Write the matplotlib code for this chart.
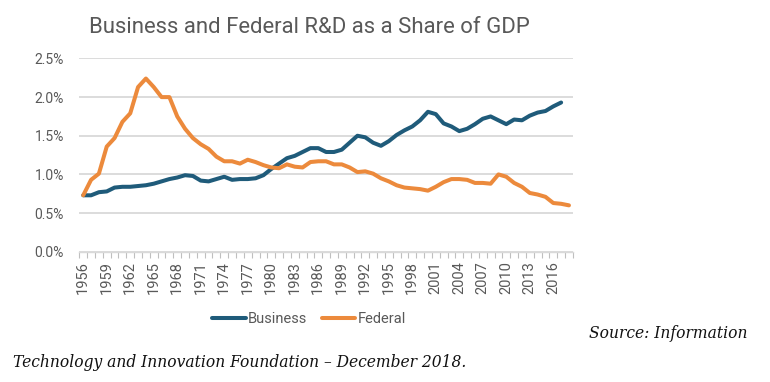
import matplotlib
matplotlib.use("Agg")
import matplotlib.pyplot as plt
from matplotlib.ticker import FixedLocator, PercentFormatter

# datos (porcentaje del PIB)
years = list(range(1956, 2019))
business = [0.73, 0.73, 0.77, 0.78, 0.83, 0.84, 0.84, 0.85, 0.86, 0.88,
            0.91, 0.94, 0.96, 0.99, 0.98, 0.92, 0.91, 0.94, 0.97, 0.93,
            0.94, 0.94, 0.95, 0.99, 1.07, 1.14, 1.21, 1.24, 1.29, 1.34,
            1.34, 1.29, 1.29, 1.32, 1.41, 1.50, 1.48, 1.41, 1.37, 1.43,
            1.51, 1.57, 1.62, 1.70, 1.81, 1.78, 1.66, 1.62, 1.56, 1.59,
            1.65, 1.72, 1.75, 1.70, 1.65, 1.71, 1.70, 1.76, 1.80, 1.82,
            1.88, 1.93]
federal = [0.73, 0.93, 1.01, 1.36, 1.47, 1.68, 1.79, 2.13, 2.24, 2.13,
           2.00, 2.00, 1.75, 1.59, 1.47, 1.39, 1.33, 1.23, 1.17, 1.17,
           1.14, 1.19, 1.16, 1.12, 1.09, 1.08, 1.13, 1.10, 1.09, 1.16,
           1.17, 1.17, 1.13, 1.13, 1.09, 1.03, 1.04, 1.01, 0.95, 0.91,
           0.86, 0.83, 0.82, 0.81, 0.79, 0.84, 0.90, 0.94, 0.94, 0.93,
           0.89, 0.89, 0.88, 1.00, 0.97, 0.89, 0.84, 0.76, 0.74, 0.71,
           0.63, 0.62, 0.60]
y_ticks = [0.0, 0.5, 1.0, 1.5, 2.0, 2.5]

azul = "#1f5b7a"
naranja = "#ec8a3c"
gris = "#595959"

fig = plt.figure(figsize=(7.7, 3.82), dpi=100)
ax = fig.add_axes([0.103, 0.341, 0.641, 0.506])

pos_b = list(range(len(business)))
pos_f = list(range(len(federal)))
ax.plot(pos_b, business, color=azul, linewidth=2.9, label="Business", solid_capstyle="round")
ax.plot(pos_f, federal, color=naranja, linewidth=2.9, label="Federal", solid_capstyle="round")

ax.set_ylim(0, 2.5)
ax.set_xlim(-0.5, len(years) - 0.5)
ax.yaxis.set_major_locator(FixedLocator(y_ticks))
ax.yaxis.set_major_formatter(PercentFormatter(decimals=1))
ax.grid(axis="y", color="#d9d9d9", linewidth=1.3)
ax.set_axisbelow(True)

# etiquetas cada 3 anos, marcas en cada ano
etiq_pos = list(range(0, len(years), 3))
ax.set_xticks(etiq_pos)
ax.set_xticklabels([str(years[i]) for i in etiq_pos], rotation=90)
ax.set_xticks([i - 0.5 for i in range(len(years) + 1)], minor=True)
ax.tick_params(axis="x", which="major", length=0, pad=7, labelsize=10.5, labelcolor=gris)
ax.tick_params(axis="x", which="minor", length=4, color="#bfbfbf", width=0.8)
ax.tick_params(axis="y", length=0, pad=11, labelsize=10, labelcolor=gris)
for lab in ax.get_xticklabels() + ax.get_yticklabels():
    lab.set_family("Roboto")

for s in ["top", "right", "left"]:
    ax.spines[s].set_visible(False)
ax.spines["bottom"].set_color("#d9d9d9")
ax.spines["bottom"].set_linewidth(1.0)

fig.text(0.116, 0.914, "Business and Federal R&D as a Share of GDP", fontsize=15.9,
         color=gris, family="Roboto", ha="left", va="baseline")

fig.legend(loc="center", bbox_to_anchor=(0.401, 0.165), ncol=2, frameon=False,
           handlelength=2.3, handletextpad=0.15, columnspacing=1.0,
           prop={"family": "Roboto", "size": 10.5}, labelcolor=gris)

fig.text(0.971, 0.128, "Source: Information", fontsize=11.2, style="italic",
         family="DejaVu Serif", ha="right", va="center", color="#111111")
fig.text(0.017, 0.052, "Technology and Innovation Foundation \u2013 December 2018.",
         fontsize=11.2, style="italic", family="DejaVu Serif", ha="left",
         va="center", color="#111111")

fig.savefig("out.png", dpi=100)
